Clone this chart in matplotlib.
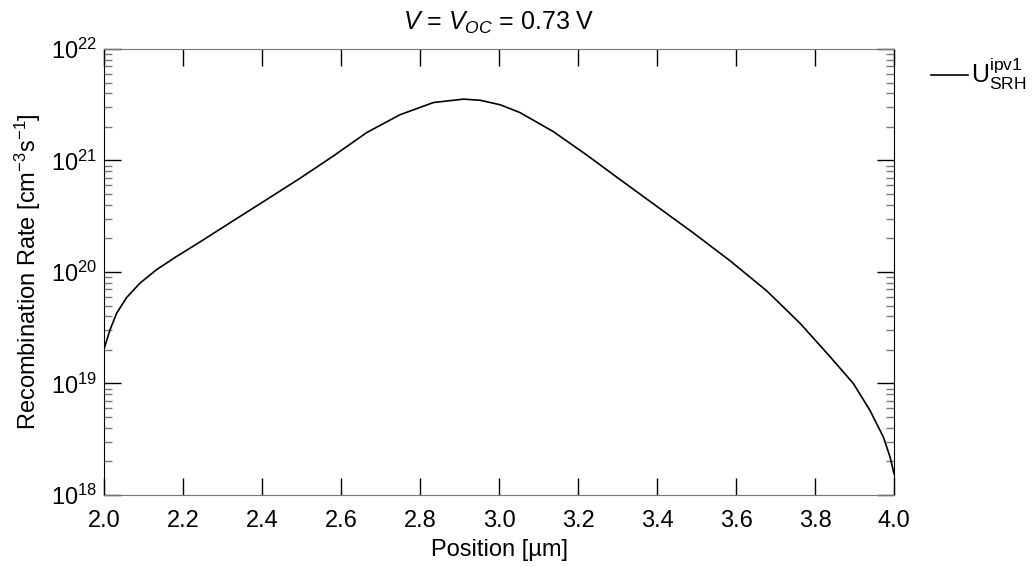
import matplotlib
matplotlib.use('Agg')
import matplotlib.pyplot as plt
from matplotlib.ticker import MultipleLocator, LogLocator, NullFormatter

plt.rcParams['font.family'] = ['Liberation Sans', 'DejaVu Sans']
plt.rcParams['mathtext.fontset'] = 'custom'
plt.rcParams['mathtext.rm'] = 'Liberation Sans'
plt.rcParams['mathtext.it'] = 'Liberation Sans:italic'
plt.rcParams['mathtext.bf'] = 'Liberation Sans:bold'

# position [um] and SRH recombination rate [cm^-3 s^-1]
position = [2.000, 2.015, 2.032, 2.057, 2.091, 2.133, 2.184, 2.243, 2.327,
            2.412, 2.496, 2.581, 2.665, 2.749, 2.834, 2.910, 2.952, 3.003,
            3.053, 3.137, 3.222, 3.306, 3.399, 3.492, 3.585, 3.678, 3.762,
            3.838, 3.897, 3.939, 3.973, 3.990, 4.000]
u_srh = [2.04e19, 3.02e19, 4.27e19, 5.89e19, 7.94e19, 1.05e20, 1.38e20, 1.86e20, 2.88e20,
         4.47e20, 6.92e20, 1.10e21, 1.78e21, 2.57e21, 3.31e21, 3.55e21, 3.47e21, 3.16e21,
         2.69e21, 1.82e21, 1.12e21, 6.76e20, 3.89e20, 2.24e20, 1.26e20, 6.76e19, 3.47e19,
         1.74e19, 1.00e19, 5.75e18, 3.31e18, 2.19e18, 1.55e18]

fig = plt.figure(figsize=(10.32, 5.67), dpi=100)
ax = fig.add_axes([0.1008, 0.127, 0.7655, 0.7866])

ax.plot(position, u_srh, color='black', linewidth=1.2, label=r'U$_{\mathrm{SRH}}^{\mathrm{ipv1}}$')
ax.set_yscale('log')
ax.set_xlim(2.0, 4.0)
ax.set_ylim(1e18, 1e22)

ax.xaxis.set_major_locator(MultipleLocator(0.2))
ax.yaxis.set_major_locator(LogLocator(base=10, numticks=10))
ax.yaxis.set_minor_locator(LogLocator(base=10, subs=range(2, 10), numticks=20))
ax.yaxis.set_minor_formatter(NullFormatter())

ax.tick_params(which='major', direction='in', length=12, width=1, top=True, right=True,
               labelsize=17, color='black')
ax.tick_params(which='minor', direction='in', length=6, width=1, right=True,
               color='#777777')
ax.tick_params(axis='x', which='minor', bottom=False, top=False)
ax.tick_params(axis='x', pad=11)
ax.tick_params(axis='y', pad=5)

for side in ['top', 'bottom']:
    ax.spines[side].set_color('#777777')
for side in ['left', 'right']:
    ax.spines[side].set_color('black')

ax.set_xlabel('Position [µm]', fontsize=17, labelpad=5)
ax.set_ylabel(r'Recombination Rate [cm$^{-3}$s$^{-1}$]', fontsize=17, labelpad=6)
ax.set_title(r'$V$ = $V_{OC}$ = 0.73 V', fontsize=18, pad=14)

ax.legend(loc='upper left', bbox_to_anchor=(1.018, 1.035), frameon=False, fontsize=18,
          handlelength=1.5, handletextpad=0.1)

plt.savefig('out.png', dpi=100)
